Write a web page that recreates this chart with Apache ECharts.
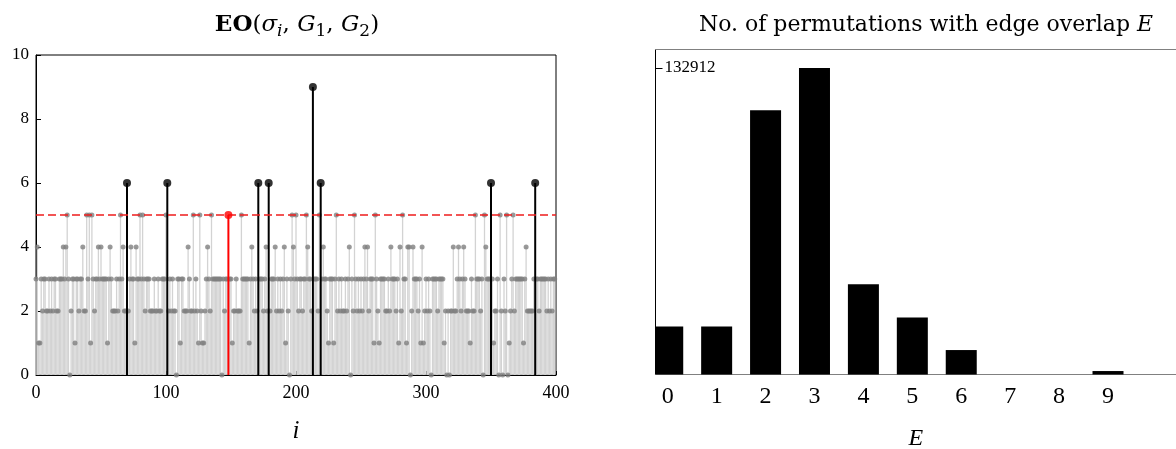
<!DOCTYPE html>
<html>
<head>
<meta charset="utf-8">
<script src="https://cdn.jsdelivr.net/npm/echarts@6/dist/echarts.min.js"></script>
<style>
  html, body { margin: 0; padding: 0; background: #fff; }
  #chart { width: 1176px; height: 449px; }
</style>
</head>
<body>
<div id="chart"></div>
<script>
// edge overlap of each permutation sigma_i (i = 0..399)
const eoValues = [
  3,4,1,1,3,2,3,3,2,2, 3,2,3,2,3,3,2,2,3,3, 3,4,3,4,5,3,0,2,3,3, 1,3,3,2,3,3,4,2,2,5,
  3,5,1,5,3,2,3,3,4,3, 4,3,3,3,3,1,3,4,3,2, 2,2,3,2,3,5,3,4,2,2, 6,2,3,4,3,3,1,4,3,3,
  5,3,5,3,2,3,3,3,2,2, 2,3,2,2,3,2,2,3,3,3, 5,6,2,3,2,3,2,2,0,3, 3,1,3,3,2,2,2,4,3,2,
  2,5,2,3,2,1,5,2,1,1, 2,3,4,3,2,5,3,3,3,3, 3,3,3,0,3,2,3,3,5,3, 3,1,2,2,3,2,2,2,5,3,
  3,3,3,3,1,3,4,3,2,3, 2,6,3,3,3,2,3,4,2,6, 2,3,3,3,4,2,3,2,3,2, 3,4,1,3,2,0,3,5,4,3,
  5,3,2,3,3,2,3,3,5,4, 3,3,2,9,3,3,3,2,5,6, 3,4,3,3,2,1,3,3,3,1, 3,5,2,3,2,3,2,2,3,2,
  3,4,0,3,2,5,3,2,3,2, 3,2,3,4,3,4,2,3,3,3, 1,5,3,2,1,3,3,3,3,2, 2,3,2,4,3,3,3,2,3,1,
  4,2,5,3,3,1,4,4,0,2, 4,3,3,3,2,3,1,4,1,2, 3,2,3,2,0,3,3,3,3,2, 3,3,3,3,1,2,0,2,0,2,
  2,4,2,2,3,4,3,2,3,4, 3,2,2,2,1,3,2,2,5,3, 3,3,2,3,0,5,4,3,3,3, 6,3,1,2,2,3,0,5,2,0,
  3,2,5,0,1,2,3,5,2,3, 3,3,3,3,3,1,3,4,2,2, 2,2,2,3,6,3,3,2,3,3, 3,3,3,2,3,2,3,2,3,3
];
const selectedIndex = 148;
const eoThreshold = 5;
const eoTicks = [0, 2, 4, 6, 8, 10];
const indexTicks = [0, 100, 200, 300, 400];

// number of permutations having edge overlap E
const overlapCategories = [0, 1, 2, 3, 4, 5, 6, 7, 8, 9];
const overlapCounts = [20800, 20800, 114600, 132912, 39100, 24700, 10600, 0, 0, 1500];

const serif = '"Liberation Serif", "DejaVu Serif", serif';
const titleFont = '"DejaVu Serif", serif';
const barPx = 31;

let grayPts = [], blackPts = [], redPts = [];
eoValues.forEach((v, i) => {
  if (i === selectedIndex) redPts.push([i, v]);
  else if (v > eoThreshold) blackPts.push([i, v]);
  else grayPts.push([i, v]);
});
const maxCount = Math.max(...overlapCounts);
const barData = overlapCategories.map((c, k) => [c, overlapCounts[k]]);

// vertical stem from 0 up to the value
function stem(color, width) {
  return function (params, api) {
    const p0 = api.coord([api.value(0), 0]);
    const p1 = api.coord([api.value(0), api.value(1)]);
    return {
      type: 'line',
      shape: { x1: p0[0], y1: p0[1], x2: p1[0], y2: p1[1] },
      style: { stroke: color, lineWidth: width }
    };
  };
}

// bar clipped to the plot area (first bar is cut by the y axis)
function clippedBar(params, api) {
  const top = api.coord([api.value(0), api.value(1)]);
  const base = api.coord([api.value(0), 0]);
  const cs = params.coordSys;
  const rect = echarts.graphic.clipRectByRect(
    { x: top[0] - barPx / 2, y: top[1], width: barPx, height: base[1] - top[1] },
    { x: cs.x, y: cs.y, width: cs.width, height: cs.height }
  );
  if (!rect || rect.height <= 0) return null;
  return { type: 'rect', shape: rect, style: { fill: '#000' } };
}

const chart = echarts.init(document.getElementById('chart'), null, { renderer: 'canvas' });

function mathRich(size) {
  const base = { fontFamily: titleFont, fontSize: size, fontWeight: 'normal', color: '#000', lineHeight: 30, verticalAlign: 'middle' };
  const sub = { fontFamily: titleFont, fontSize: Math.round(size * 0.72), fontWeight: 'normal', color: '#000', lineHeight: 15, verticalAlign: 'bottom' };
  return {
    b: Object.assign({}, base, { fontWeight: 'bold' }),
    n: base,
    it: Object.assign({}, base, { fontStyle: 'italic' }),
    subi: Object.assign({}, sub, { fontStyle: 'italic' }),
    sub: sub
  };
}

chart.setOption({
  animation: false,
  backgroundColor: '#fff',
  title: [
    {
      text: '{b|EO}{n|(}{it|σ}{subi|i}{n|, }{it|G}{sub|1}{n|, }{it|G}{sub|2}{n|)}',
      left: 292, top: 5, textAlign: 'center',
      textStyle: { fontWeight: 'normal', rich: mathRich(23) }
    },
    {
      text: '{n|No. of permutations with edge overlap }{it|E}',
      left: 921, top: 5, textAlign: 'center',
      textStyle: { fontWeight: 'normal', rich: mathRich(22) }
    }
  ],
  grid: [
    { left: 36, right: 620, top: 55, bottom: 74, outerBoundsMode: 'none', show: true, borderColor: '#000', borderWidth: 1 },
    { left: 655.5, right: 0, top: 49.5, bottom: 74.5, outerBoundsMode: 'none' }
  ],
  xAxis: [
    {
      gridIndex: 0, type: 'value', min: 0, max: 400, interval: 100,
      name: 'i', nameLocation: 'middle', nameGap: 44,
      nameTextStyle: { fontFamily: serif, fontSize: 25, fontStyle: 'italic', color: '#000' },
      axisLine: { lineStyle: { color: '#000', width: 1 } },
      axisTick: { inside: true, length: 4, lineStyle: { color: '#000' }, customValues: indexTicks },
      axisLabel: { fontFamily: serif, fontSize: 18, color: '#000', margin: 9, customValues: indexTicks },
      splitLine: { show: false }
    },
    {
      gridIndex: 1, type: 'value', min: -0.25, max: 10.39,
      name: 'E', nameLocation: 'middle', nameGap: 52,
      nameTextStyle: { fontFamily: serif, fontSize: 24, fontStyle: 'italic', color: '#000' },
      axisLine: { onZero: false, lineStyle: { color: '#808080', width: 1.2 } },
      axisTick: { show: false },
      axisLabel: { fontFamily: serif, fontSize: 24, color: '#000', margin: 10, customValues: overlapCategories },
      splitLine: { show: false }
    },
    {
      gridIndex: 1, type: 'value', position: 'top', min: -0.25, max: 10.39,
      axisLine: { onZero: false, lineStyle: { color: '#808080', width: 1.2 } },
      axisTick: { show: false }, axisLabel: { show: false }, splitLine: { show: false }
    }
  ],
  yAxis: [
    {
      gridIndex: 0, type: 'value', min: 0, max: 10, interval: 2,
      axisLine: { show: true, onZero: false, lineStyle: { color: '#000', width: 1 } },
      axisTick: { show: true, inside: true, length: 5, lineStyle: { color: '#000' }, customValues: eoTicks },
      axisLabel: { fontFamily: serif, fontSize: 17, color: '#000', margin: 7, customValues: eoTicks },
      splitLine: { show: false }
    },
    {
      gridIndex: 1, type: 'value', min: 0, max: Math.round(maxCount * 1.06),
      axisLine: { show: true, onZero: false, lineStyle: { color: '#000', width: 1 } },
      axisTick: { show: true, inside: true, length: 7, lineStyle: { color: '#000' }, customValues: [maxCount] },
      axisLabel: {
        inside: true, fontFamily: serif, fontSize: 17, color: '#000', margin: 9,
        customValues: [maxCount], formatter: v => String(v)
      },
      splitLine: { show: false }
    }
  ],
  series: [
    {
      type: 'custom', xAxisIndex: 0, yAxisIndex: 0, renderItem: stem('#d3d3d3', 1.3),
      data: grayPts, z: 2,
      markLine: {
        silent: true, symbol: 'none', label: { show: false },
        lineStyle: { color: '#ee1c1c', type: [8, 4], width: 1.6 },
        data: [{ yAxis: eoThreshold }]
      }
    },
    {
      type: 'scatter', xAxisIndex: 0, yAxisIndex: 0, data: grayPts,
      symbolSize: 5, itemStyle: { color: '#808080' }, z: 3
    },
    {
      type: 'custom', xAxisIndex: 0, yAxisIndex: 0, renderItem: stem('#000', 2),
      data: blackPts, z: 4
    },
    {
      type: 'scatter', xAxisIndex: 0, yAxisIndex: 0, data: blackPts,
      symbolSize: 8, itemStyle: { color: '#000' }, z: 5
    },
    {
      type: 'custom', xAxisIndex: 0, yAxisIndex: 0, renderItem: stem('#ff0000', 2),
      data: redPts, z: 4
    },
    {
      type: 'scatter', xAxisIndex: 0, yAxisIndex: 0, data: redPts,
      symbolSize: 8, itemStyle: { color: '#ff0000' }, z: 5
    },
    {
      type: 'custom', xAxisIndex: 1, yAxisIndex: 1, data: barData,
      renderItem: clippedBar, z: 1
    }
  ]
});
</script>
</body>
</html>
